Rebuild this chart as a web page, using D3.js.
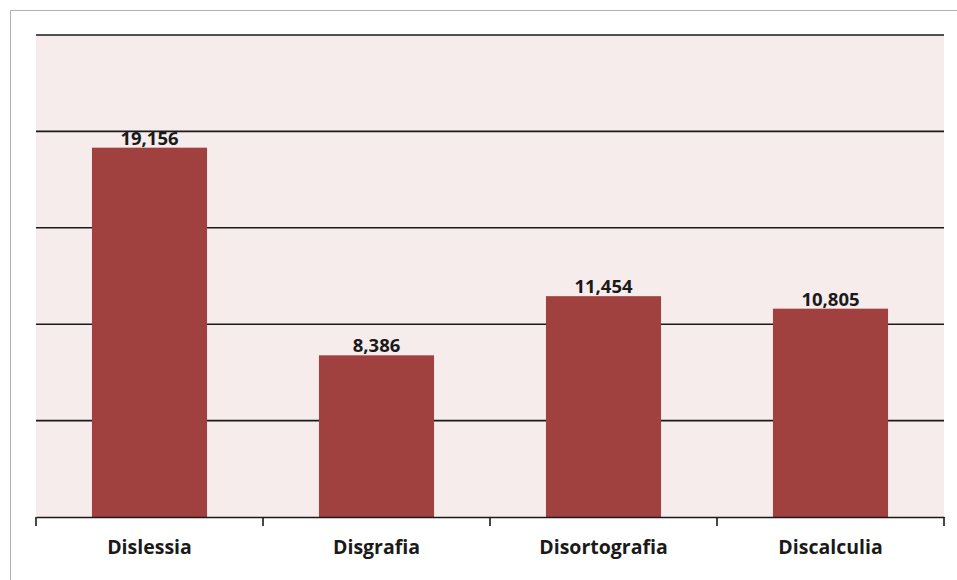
<!DOCTYPE html>
<html><head><meta charset="utf-8">
<script src="https://cdn.jsdelivr.net/npm/d3@7/dist/d3.min.js"></script>
<style>body{margin:0;background:#fff}svg{display:block}</style>
</head><body>
<svg id="c" width="957" height="580"></svg>
<script>
const categories = ["Dislessia", "Disgrafia", "Disortografia", "Discalculia"];
const values = [19156, 8386, 11454, 10805];
const yTicks = [0, 5000, 10000, 15000, 20000, 25000];

const svg = d3.select("#c");
const pLeft = 36, pRight = 944, pTop = 35, pBottom = 517;

// outer frame
svg.append("path").attr("d", "M10.5,580 V10.5 H957").attr("fill", "none").attr("stroke", "#b0b0b0").attr("stroke-width", 1);

const x = d3.scaleBand().domain(categories).range([pLeft, pRight]).paddingInner(0.493).paddingOuter(0.2465);
const y = d3.scaleLinear().domain([0, 25000]).range([pBottom, pTop]);

svg.append("rect").attr("x", pLeft).attr("y", pTop).attr("width", pRight - pLeft).attr("height", pBottom - pTop).attr("fill", "#f7ecec");

// gridlines
svg.append("g").selectAll("line").data(yTicks.filter(d => d > 0)).join("line")
  .attr("x1", pLeft).attr("x2", pRight)
  .attr("y1", d => y(d)).attr("y2", d => y(d))
  .attr("stroke", "#1a1a1a").attr("stroke-width", 1.6);

// bars
svg.append("g").selectAll("rect").data(values).join("rect")
  .attr("x", (d, i) => x(categories[i]))
  .attr("width", x.bandwidth())
  .attr("y", d => y(d))
  .attr("height", d => y(0) - y(d))
  .attr("fill", "#a04140");

// value labels
svg.append("g").selectAll("text").data(values).join("text")
  .attr("x", (d, i) => x(categories[i]) + x.bandwidth() / 2)
  .attr("y", d => y(d) - 3)
  .attr("text-anchor", "middle")
  .attr("font-family", "Open Sans, sans-serif").attr("font-weight", "bold").attr("font-size", 18.5)
  .attr("fill", "#1a1a1a")
  .text(d => d3.format(",")(d));

// x axis
const xa = d3.scaleBand().domain(categories).range([pLeft, pRight]);
const axis = svg.append("g").attr("transform", `translate(0,${pBottom})`)
  .call(d3.axisBottom(xa).tickSize(0).tickSizeOuter(0));
axis.select(".domain").attr("stroke", "#1a1a1a").attr("stroke-width", 1.6);
axis.selectAll(".tick text").attr("font-family", "Open Sans, sans-serif").attr("font-weight", "bold")
  .attr("font-size", 19.5).attr("fill", "#1a1a1a").attr("y", 37).attr("dy", 0);
// tick marks at band boundaries
const bounds = categories.map(c => xa(c)).concat([pRight]);
axis.append("g").selectAll("line").data(bounds).join("line")
  .attr("x1", d => d).attr("x2", d => d).attr("y1", 0).attr("y2", 9)
  .attr("stroke", "#1a1a1a").attr("stroke-width", 1.6);
</script>
</body></html>
